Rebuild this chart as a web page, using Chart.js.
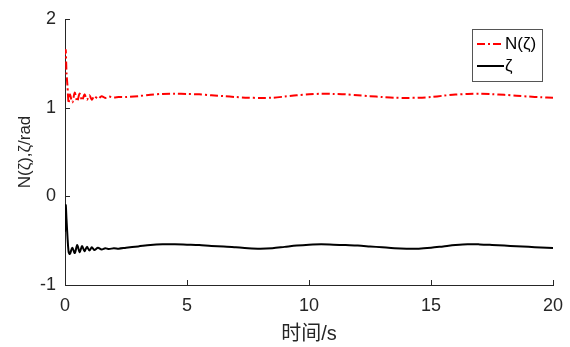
<!DOCTYPE html>
<html><head><meta charset="utf-8">
<script src="https://cdn.jsdelivr.net/npm/chart.js@4/dist/chart.umd.min.js"></script>
<style>html,body{margin:0;padding:0;background:#fff}#wrap{width:570px;height:347px}</style>
</head><body><div id="wrap"><canvas id="c" width="570" height="347"></canvas></div>
<script>
const times = [0,0.03,0.06,0.1,0.15,0.2,0.3,0.4,0.5,0.6,0.7,0.8,0.9,1.0,1.1,1.2,1.35,1.5,1.65,1.8,2.0,2.2,2.5,3,3.5,4,4.5,5,5.5,6,6.5,7,7.5,8,8.5,9,9.5,10,10.5,11,11.5,12,12.5,13,13.5,14,14.5,15,15.5,16,16.5,17,17.5,18,18.5,19,19.5,20];
const nZeta = [1.6,1.65,1.4,1.25,1.05,1.15,1.06,1.17,1.07,1.16,1.08,1.15,1.09,1.14,1.09,1.13,1.10,1.13,1.11,1.125,1.115,1.12,1.12,1.13,1.145,1.155,1.157,1.155,1.15,1.14,1.13,1.12,1.112,1.11,1.112,1.125,1.14,1.15,1.157,1.155,1.15,1.14,1.13,1.12,1.112,1.11,1.112,1.12,1.135,1.148,1.155,1.157,1.152,1.145,1.135,1.125,1.118,1.113];
const zeta = [-0.4,-0.1,-0.25,-0.45,-0.63,-0.65,-0.58,-0.64,-0.55,-0.63,-0.56,-0.62,-0.57,-0.61,-0.575,-0.605,-0.58,-0.6,-0.585,-0.595,-0.585,-0.59,-0.58,-0.565,-0.548,-0.54,-0.54,-0.545,-0.55,-0.56,-0.565,-0.575,-0.585,-0.59,-0.585,-0.57,-0.555,-0.545,-0.54,-0.545,-0.55,-0.555,-0.565,-0.575,-0.585,-0.59,-0.59,-0.58,-0.565,-0.55,-0.54,-0.542,-0.548,-0.555,-0.563,-0.57,-0.577,-0.583];
const xTicks = [0,5,10,15,20];
const yTicks = [-1,0,1,2];
const seriesNames = ['N(ζ)','ζ'];
const xTitle = '时间/s';
const yTitle = 'N(ζ),ζ/rad';

const FONT = '"Liberation Sans", Arial, "Noto Sans CJK SC", sans-serif';
const AX = '#262626';

const tickPlugin = {
  id:'inTicks',
  afterDatasetsDraw(chart){
    const ctx = chart.ctx, a = chart.chartArea;
    const xs = chart.scales.x, ys = chart.scales.y;
    ctx.save();
    ctx.strokeStyle = AX; ctx.lineWidth = 1;
    ctx.beginPath();
    xTicks.forEach(v=>{const p=Math.round(xs.getPixelForValue(v))+0.5; ctx.moveTo(p,a.bottom); ctx.lineTo(p,a.bottom-5);});
    yTicks.forEach(v=>{const p=Math.round(ys.getPixelForValue(v))+0.5; ctx.moveTo(a.left,p); ctx.lineTo(a.left+5,p);});
    ctx.stroke();
    // legend
    const bx=472, by=29, bw=70, bh=52;
    ctx.fillStyle='#fff'; ctx.fillRect(bx,by,bw,bh);
    ctx.strokeStyle='#555'; ctx.lineWidth=1; ctx.strokeRect(bx+0.5,by+0.5,bw,bh);
    chart.data.datasets.forEach((ds,i)=>{
      const y = by+15+i*22;
      ctx.strokeStyle=ds.borderColor; ctx.lineWidth=ds.borderWidth;
      ctx.setLineDash(ds.borderDash||[]);
      ctx.beginPath(); ctx.moveTo(bx+5,y); ctx.lineTo(bx+32,y); ctx.stroke();
      ctx.setLineDash([]);
      ctx.fillStyle='#000'; ctx.font='17px '+FONT; ctx.textBaseline='middle'; ctx.textAlign='left';
      ctx.fillText(ds.label,bx+33,y);
    });
    ctx.restore();
  }
};

new Chart(document.getElementById('c'),{
  type:'line',
  data:{datasets:[
    {label:seriesNames[0],data:times.map((t,i)=>({x:t,y:nZeta[i]})),borderColor:'#ff0000',borderWidth:2,borderDash:[8,3,2,3],pointRadius:0,tension:0.3,fill:false},
    {label:seriesNames[1],data:times.map((t,i)=>({x:t,y:zeta[i]})),borderColor:'#000000',borderWidth:2,pointRadius:0,tension:0.3,fill:false}
  ]},
  options:{
    responsive:false,animation:false,
    layout:{padding:{left:0,top:19,right:17,bottom:0}},
    plugins:{legend:{display:false},tooltip:{enabled:false}},
    scales:{
      x:{type:'linear',min:0,max:20,
        afterBuildTicks(s){s.ticks=xTicks.map(v=>({value:v}));},
        afterFit(s){s.height=62; s.paddingLeft=0; s.paddingRight=0;},
        grid:{drawOnChartArea:false,drawTicks:false},
        border:{display:true,color:AX,width:1},
        ticks:{color:AX,font:{family:FONT,size:18},padding:10,maxRotation:0},
        title:{display:true,text:xTitle,color:AX,font:{family:FONT,size:20},padding:{top:0,bottom:1}}
      },
      y:{type:'linear',min:-1,max:2,
        afterBuildTicks(s){s.ticks=yTicks.map(v=>({value:v}));},
        afterFit(s){s.width=65; s.paddingTop=0; s.paddingBottom=0;},
        grid:{drawOnChartArea:false,drawTicks:false},
        border:{display:true,color:AX,width:1},
        ticks:{color:AX,font:{family:FONT,size:18},padding:9},
        title:{display:true,text:yTitle,color:AX,font:{family:FONT,size:17},padding:{top:15,bottom:0}}
      }
    }
  },
  plugins:[tickPlugin]
});
</script></body></html>
